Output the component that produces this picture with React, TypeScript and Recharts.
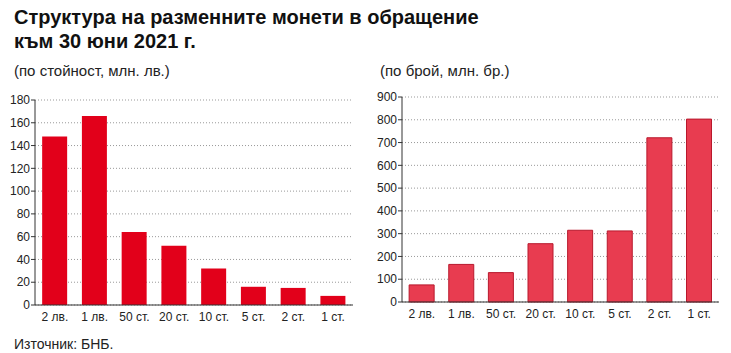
import React from 'react'
import { BarChart, Bar, XAxis, YAxis, CartesianGrid } from 'recharts'

const categories = ['2 лв.', '1 лв.', '50 ст.', '20 ст.', '10 ст.', '5 ст.', '2 ст.', '1 ст.']
const valueMln = [148, 166, 64, 52, 32, 16, 15, 8]
const countMln = [75, 165, 129, 256, 315, 312, 721, 803]
const valueTicks = [0, 20, 40, 60, 80, 100, 120, 140, 160, 180]
const countTicks = [0, 100, 200, 300, 400, 500, 600, 700, 800, 900]

const valueData = categories.map((c, i) => ({ name: c, v: valueMln[i] }))
const countData = categories.map((c, i) => ({ name: c, v: countMln[i] }))

const FONT = '"Liberation Sans", Arial, sans-serif'
const tick = { fontSize: 12, fill: '#222', fontFamily: FONT }

function CoinChart({ data, ticks, max, fill, stroke, width, yWidth, right }: any) {
  return (
    <BarChart
      width={width}
      height={240}
      data={data}
      margin={{ top: 8, right, left: 0, bottom: 5 }}
      barCategoryGap="18%"
    >
      <CartesianGrid vertical={false} stroke="#999" strokeDasharray="1 2" />
      <XAxis
        dataKey="name"
        tick={tick}
        tickLine={false}
        tickMargin={1}
        axisLine={{ stroke: '#333' }}
        interval={0}
        height={22}
      />
      <XAxis xAxisId="top" orientation="top" dataKey="name" height={0} tick={false} tickLine={false} axisLine={{ stroke: '#888' }} />
      <YAxis
        domain={[0, max]}
        ticks={ticks}
        tick={tick}
        tickSize={4}
        tickMargin={1}
        width={yWidth}
        interval={0}
        axisLine={{ stroke: '#333' }}
        tickLine={{ stroke: '#333' }}
      />
      <YAxis yAxisId="right" orientation="right" width={0} tick={false} tickLine={false} axisLine={{ stroke: '#888' }} />
      <Bar dataKey="v" fill={fill} stroke={stroke} strokeWidth={stroke ? 1 : 0} isAnimationActive={false} />
    </BarChart>
  )
}

export default function App() {
  return (
    <div lang="bg" style={{ position: 'fixed', left: 0, top: 0, width: 731, height: 353, background: '#fff', fontFamily: FONT, color: '#111' }}>
      <div style={{ position: 'absolute', left: 14, top: 5, fontSize: 20, fontWeight: 'bold', lineHeight: '24px' }}>
        Структура на разменните монети в обращение<br />към 30 юни 2021 г.
      </div>
      <div style={{ position: 'absolute', left: 14, top: 62, fontSize: 15, color: '#222' }}>(по стойност, млн. лв.)</div>
      <div style={{ position: 'absolute', left: 380, top: 62, fontSize: 15, color: '#222' }}>(по брой, млн. бр.)</div>
      <div style={{ position: 'absolute', left: 0, top: 92 }}>
        <CoinChart data={valueData} ticks={valueTicks} max={180} fill="#e2001a" width={370} yWidth={35} right={17} />
      </div>
      <div style={{ position: 'absolute', left: 370, top: 89 }}>
        <CoinChart data={countData} ticks={countTicks} max={900} fill="#e83c50" stroke="#b8182c" width={361} yWidth={32} right={12} />
      </div>
      <div style={{ position: 'absolute', left: 14, top: 336, fontSize: 14, color: '#222' }}>Източник: БНБ.</div>
    </div>
  )
}
